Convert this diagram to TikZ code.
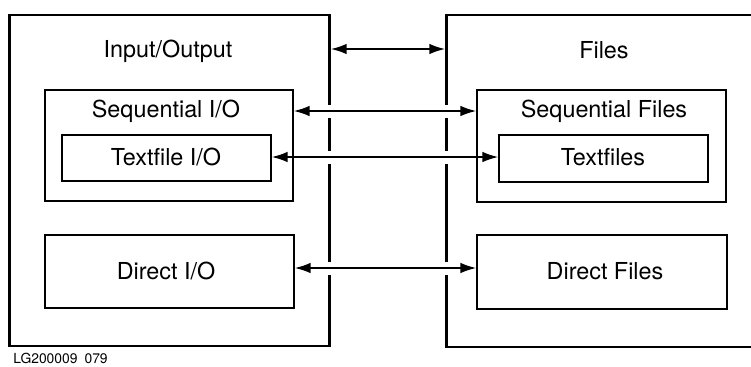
\documentclass[tikz,border=0pt]{standalone}
\usepackage{fontspec}
\setmainfont{TeX Gyre Heros}
\usetikzlibrary{arrows.meta,fit}

\tikzset{
  outerbox/.style={draw,line width=1.6pt,inner sep=0pt},
  innerbox/.style={draw,line width=0.9pt,inner sep=0pt},
  title/.style={anchor=base,font=\fontsize{13.3}{16}\selectfont},
  link/.style={line width=0.9pt,{Latex[length=9pt,width=6pt]}-{Latex[length=9pt,width=6pt]}},
  mask/.style={draw=white,line width=0.26cm}
}

\begin{document}
\begin{tikzpicture}[x=0.02cm,y=-0.02cm]
  \clip (0,0) rectangle (751,366);

  % outer boxes
  \node[outerbox,fit={(9.5,15) (329.5,346)}] (io) {};
  \node[outerbox,fit={(446.5,15) (790,347)}] (files) {};

  % arrow levels
  \coordinate (ltop) at (0,49);
  \coordinate (lseq) at (0,111);
  \coordinate (ltxt) at (0,157);
  \coordinate (ldir) at (0,268);

  % gaps where the arrows cross
  \foreach \l in {lseq,ltxt,ldir}
    \draw[mask] ([xshift=-0.2cm]io.east |- \l) -- ([xshift=0.2cm]files.west |- \l);

  % inner boxes
  \node[innerbox,fit={(45,90) (293,201)}] (seqio) {};
  \node[innerbox,fit={(62,135) (271,181)}] (txtio) {};
  \node[innerbox,fit={(45,235) (294,308)}] (dirio) {};
  \node[innerbox,fit={(477,90) (726,202)}] (seqf) {};
  \node[innerbox,fit={(499,135) (708,182)}] (txtf) {};
  \node[innerbox,fit={(477,235) (727,309)}] (dirf) {};

  % titles
  \node[title] (iot) at (168,57.5) {Input/Output};
  \node[title] (filest) at (604,58) {Files};
  \node[title] (seqiot) at (166,117) {Sequential I/O};
  \node[title] (txtiot) at (166,165) {Textfile I/O};
  \node[title] (diriot) at (166,279) {Direct I/O};
  \node[title] (seqft) at (604,117) {Sequential Files};
  \node[title] (txtft) at (603,165.5) {Textfiles};
  \node[title] (dirft) at (605,279) {Direct Files};

  \node[anchor=base west,inner sep=0pt,font=\fontsize{7.9}{9}\selectfont] (tag) at (13,363) {LG200009\enspace079};

  % connectors
  \draw[link] (io.east |- ltop) -- (files.west |- ltop);
  \draw[link] (seqio.east |- lseq) -- (seqf.west |- lseq);
  \draw[link] (txtio.east |- ltxt) -- (txtf.west |- ltxt);
  \draw[link] (dirio.east |- ldir) -- (dirf.west |- ldir);

\end{tikzpicture}
\end{document}
